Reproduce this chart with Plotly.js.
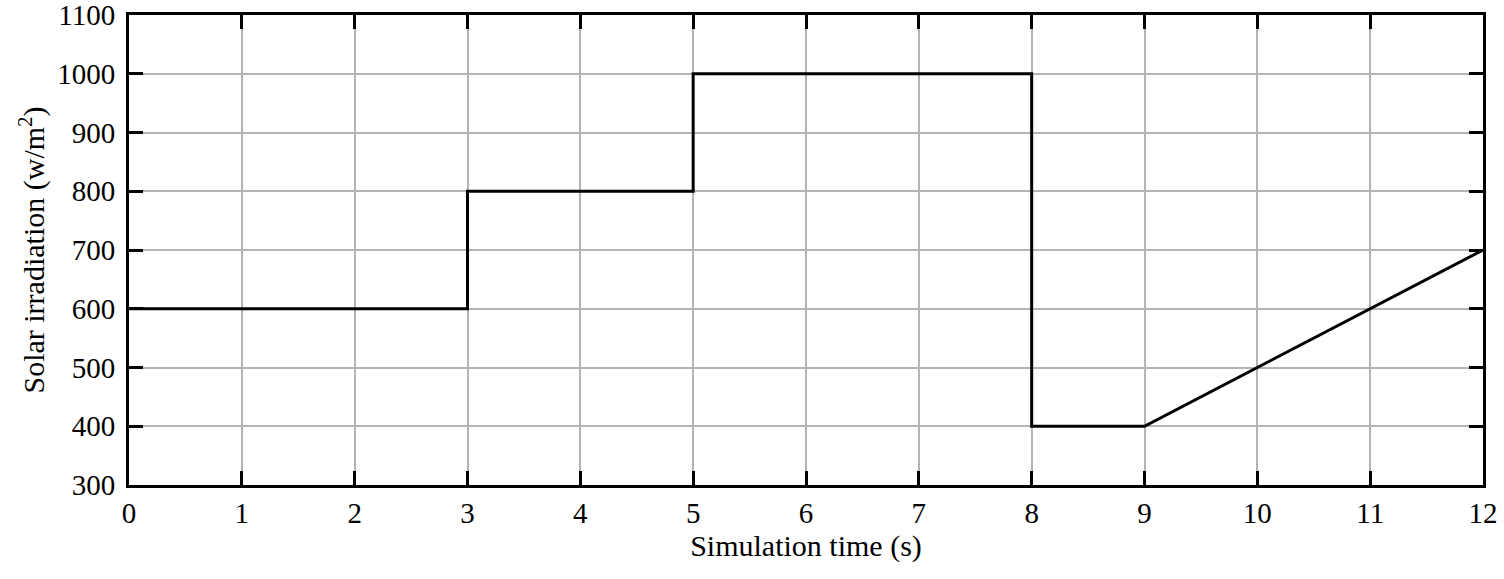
<!DOCTYPE html>
<html><head><meta charset="utf-8">
<script src="https://cdn.plot.ly/plotly-3.0.1.min.js"></script>
<style>html,body{margin:0;padding:0;background:#fff}#chart{width:1504px;height:579px}</style>
</head><body><div id="chart"></div>
<script>
var timeS = [0, 3, 3, 5, 5, 8, 8, 9, 12];
var irradiation = [600, 600, 800, 800, 1000, 1000, 400, 400, 700];
var xTicks = [0,1,2,3,4,5,6,7,8,9,10,11,12];
var yTicks = [300,400,500,600,700,800,900,1000,1100];

var fam = '"Liberation Serif", "Times New Roman", serif';
var tickFont = {family: fam, size: 29, color: '#000'};
var titleFont = {family: fam, size: 30, color: '#000'};
Plotly.newPlot('chart', [{
  x: timeS, y: irradiation, type: 'scatter', mode: 'lines',
  line: {color: '#000', width: 3}, hoverinfo: 'skip'
}], {
  width: 1504, height: 579,
  margin: {l: 129, r: 21, t: 15, b: 94},
  paper_bgcolor: '#fff', plot_bgcolor: '#fff',
  font: tickFont,
  showlegend: false,
  xaxis: {
    range: [0, 12], tickvals: xTicks, ticktext: xTicks.map(String),
    showgrid: true, gridcolor: '#b4b4b4', gridwidth: 2,
    zeroline: false, showline: true, linecolor: '#000', linewidth: 3, mirror: 'ticks',
    ticks: 'inside', ticklen: 14, tickwidth: 3, tickcolor: '#000', ticklabeloverflow: 'allow',
    tickfont: tickFont, title: {text: 'Simulation time (s)', font: titleFont, standoff: 0}
  },
  yaxis: {
    range: [300, 1100], tickvals: yTicks, ticktext: yTicks.map(String),
    showgrid: true, gridcolor: '#b4b4b4', gridwidth: 2,
    zeroline: false, showline: true, linecolor: '#000', linewidth: 3, mirror: 'ticks',
    ticks: 'inside', ticklen: 14, tickwidth: 3, tickcolor: '#000', ticklabeloverflow: 'allow',
    ticklabelstandoff: 5,
    tickfont: tickFont, title: {text: 'Solar irradiation (w/m<sup>2</sup>)', font: titleFont, standoff: 4}
  }
}, {displayModeBar: false, staticPlot: true});
</script></body></html>
